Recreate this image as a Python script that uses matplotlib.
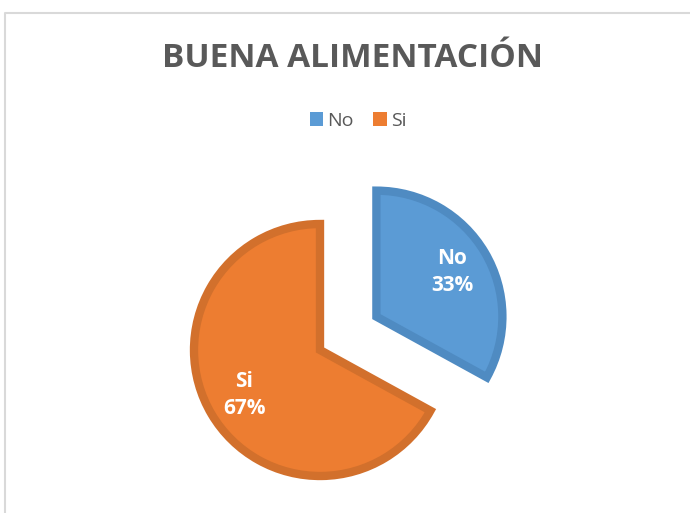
import matplotlib
matplotlib.use("Agg")
import matplotlib.pyplot as plt
from matplotlib.lines import Line2D
from matplotlib.patches import Rectangle

categories = ["No", "Si"]
values = [33, 67]
colors = ["#5B9BD5", "#ED7D31"]
edge_colors = ["#4F8BC2", "#D2702C"]
title = "BUENA ALIMENTACIÓN"

plt.rcParams['font.family'] = ['Open Sans', 'DejaVu Sans']

W, H = 690, 513
fig = plt.figure(figsize=(W / 100, H / 100), dpi=100)
ax = fig.add_axes([0, 0, 1, 1])
ax.set_xlim(0, W)
ax.set_ylim(0, H)
ax.set_aspect('equal')
ax.axis('off')

# chart frame (only top and left visible)
fig.add_artist(Line2D([4.5 / W, 4.5 / W, 1.0], [0.0, 1 - 12.5 / H, 1 - 12.5 / H],
                      transform=fig.transFigure, color="#D9D9D9", lw=1.5))

cx, cy, r = 320, H - 350, 126
labels = [f"{c}\n{v}%" for c, v in zip(categories, values)]
wedges, texts = ax.pie(values, labels=labels, colors=colors, startangle=90,
                       counterclock=False, explode=[0.52 * r, 0.0], center=(cx, cy),
                       radius=r, labeldistance=0.70,
                       wedgeprops=dict(linewidth=6, joinstyle='miter'),
                       textprops=dict(color='white', fontsize=15, fontweight='bold',
                                      ha='center', va='center', linespacing=1.4))
for w, ec in zip(wedges, edge_colors):
    w.set_edgecolor(ec)

ax.set_xlim(0, W)
ax.set_ylim(0, H)

fig.text(352 / W, 1 - 59 / H, title, ha='center', va='center', fontsize=24,
         fontweight='bold', color='#595959')

handles = [Rectangle((0, 0), 1, 1, facecolor=c, edgecolor='none') for c in colors]
fig.legend(handles, categories, loc='center', bbox_to_anchor=(358 / W, 1 - 121 / H),
           ncol=2, frameon=False, fontsize=14, handlelength=0.7, handleheight=0.7,
           handletextpad=0.2, columnspacing=1.0, labelcolor='#595959')

fig.savefig("out.png", dpi=100)
